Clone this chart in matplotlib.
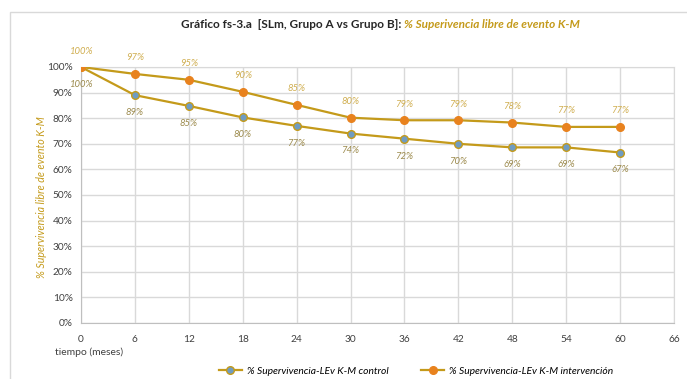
import matplotlib.pyplot as plt
from matplotlib.patches import Rectangle

# Datos de supervivencia K-M por mes
meses = [0, 6, 12, 18, 24, 30, 36, 42, 48, 54, 60]
control = [100, 89, 84.8, 80.3, 77, 74, 72, 70, 68.6, 68.6, 66.6]
intervencion = [100, 97.3, 95, 90.3, 85.2, 80.2, 79.2, 79.2, 78.3, 76.6, 76.6]
x_ticks = list(range(0, 67, 6))
y_ticks = list(range(0, 101, 10))

plt.rcParams['font.family'] = ['Lato', 'DejaVu Sans']

oro = '#C49A1A'
gris = '#404040'

fig = plt.figure(figsize=(6.87, 3.79), dpi=100)
ax = fig.add_axes([81 / 687, 1 - 323 / 379, 593 / 687, 256 / 379])

ax.plot(meses, control, color=oro, linewidth=1.6, marker='o', markersize=5.5,
        markerfacecolor='#6F9CC2', markeredgecolor=oro, markeredgewidth=1,
        label='% Supervivencia-LEv K-M control', zorder=3)
ax.plot(meses, intervencion, color=oro, linewidth=1.6, marker='o', markersize=5.5,
        markerfacecolor='#E8821E', markeredgecolor='#E8821E',
        label='% Supervivencia-LEv K-M intervención', zorder=3)

# Etiquetas de datos
for x, y in zip(meses, intervencion):
    ax.annotate(f'{y:.0f}%', (x, y), xytext=(0, 11.5), textcoords='offset points',
                ha='center', va='center', fontsize=6.8, style='italic',
                color='#D0AE50', annotation_clip=False)
for x, y in zip(meses, control):
    ax.annotate(f'{y:.0f}%', (x, y), xytext=(0, -12.5), textcoords='offset points',
                ha='center', va='center', fontsize=6.8, style='italic',
                color='#9C8A4C', annotation_clip=False)

ax.set_xlim(0, 66)
ax.set_ylim(0, 100)
ax.set_xticks(x_ticks)
ax.set_yticks(y_ticks)
ax.set_yticklabels([f'{t}%' for t in y_ticks])
ax.tick_params(axis='both', length=0, labelsize=7.3, colors=gris)
ax.tick_params(axis='x', pad=9)
ax.tick_params(axis='y', pad=6)
ax.grid(True, color='#D9D9D9', linewidth=1)
ax.set_axisbelow(True)
for lado in ['top', 'right']:
    ax.spines[lado].set_color('#D9D9D9')
ax.spines['left'].set_color('#BFBFBF')
ax.spines['bottom'].set_color('#BFBFBF')

fig.text(42 / 687, 1 - 197 / 379, '% Supervivencia libre de evento K-M',
         fontsize=7.7, style='italic', color=oro, rotation=90,
         ha='center', va='center')
fig.text(55 / 687, 1 - 352 / 379, 'tiempo (meses)', fontsize=7.5,
         color=gris, ha='left', va='center')

# Título en dos partes
fig.text(404 / 687, 1 - 25 / 379, 'Gráfico fs-3.a  [SLm, Grupo A vs Grupo B]: ',
         fontsize=8.5, fontweight='bold', color='#262626', ha='right', va='center')
fig.text(404 / 687, 1 - 25 / 379, '% Superivencia libre de evento K-M',
         fontsize=8.5, fontweight='bold', style='italic', color=oro,
         ha='left', va='center')

fig.legend(loc='center', bbox_to_anchor=(416 / 687, 1 - 371 / 379), ncol=2,
           frameon=False, columnspacing=3.2, handlelength=2.2, handletextpad=0.5,
           prop={'style': 'italic', 'size': 7.4})

# Marco del gráfico
fig.patches.append(Rectangle((10 / 687, -0.1), 1.2, 1.1 - 12 / 379,
                             transform=fig.transFigure, fill=False,
                             edgecolor='#D9D9D9', linewidth=1))

fig.savefig('out.png', dpi=100)
